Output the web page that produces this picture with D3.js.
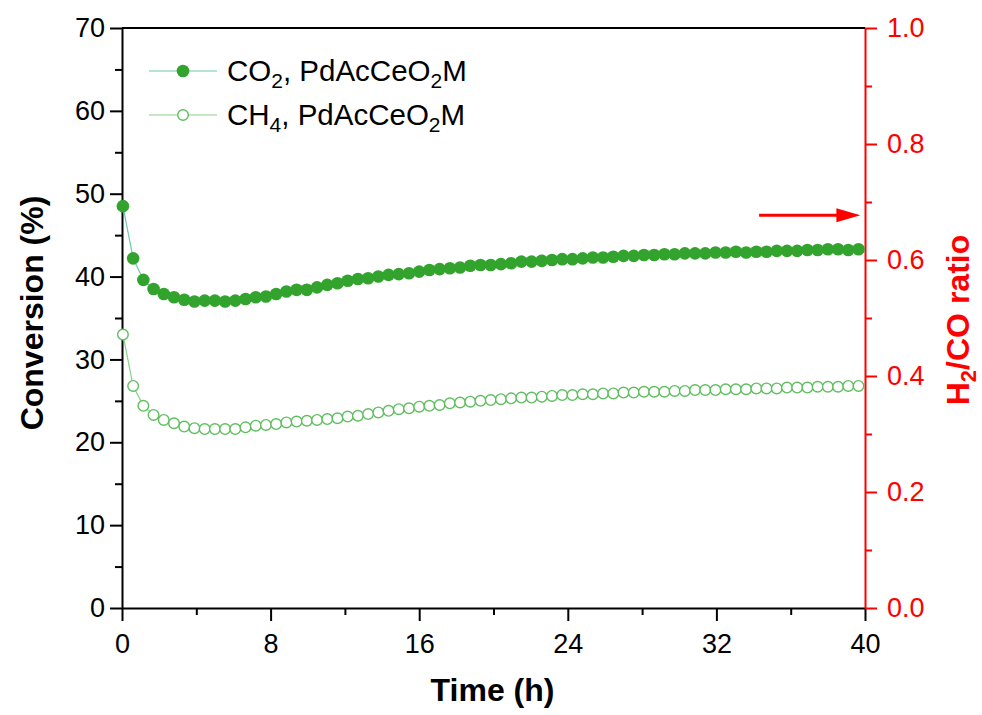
<!DOCTYPE html>
<html>
<head>
<meta charset="utf-8">
<script src="https://cdn.jsdelivr.net/npm/d3@7/dist/d3.min.js"></script>
<style>
  html, body { margin: 0; padding: 0; background: #fff; }
  svg { display: block; font-family: "Liberation Sans", Arial, sans-serif; }
</style>
</head>
<body>
<svg id="chart" width="982" height="715"></svg>
<script>
// Time on stream (h), one sample roughly every 33 min
const timeH = [
  0.05, 0.60, 1.15, 1.70, 2.25, 2.80, 3.35, 3.90, 4.45, 5.00,
  5.55, 6.10, 6.65, 7.20, 7.75, 8.30, 8.85, 9.40, 9.95, 10.50,
  11.05, 11.60, 12.15, 12.70, 13.25, 13.80, 14.35, 14.90, 15.45, 16.00,
  16.55, 17.10, 17.65, 18.20, 18.75, 19.30, 19.85, 20.40, 20.95, 21.50,
  22.05, 22.60, 23.15, 23.70, 24.25, 24.80, 25.35, 25.90, 26.45, 27.00,
  27.55, 28.10, 28.65, 29.20, 29.75, 30.30, 30.85, 31.40, 31.95, 32.50,
  33.05, 33.60, 34.15, 34.70, 35.25, 35.80, 36.35, 36.90, 37.45, 38.00,
  38.55, 39.10, 39.65
];

// CO2 conversion (%), PdAcCeO2M
const co2Conv = [
  48.5, 42.2, 39.6, 38.5, 37.9, 37.5, 37.2, 37.0, 37.1, 37.1,
  37.0, 37.1, 37.3, 37.5, 37.6, 37.9, 38.2, 38.4, 38.4, 38.7,
  39.0, 39.2, 39.5, 39.7, 39.8, 40.0, 40.2, 40.3, 40.4, 40.6,
  40.8, 40.9, 41.0, 41.1, 41.3, 41.4, 41.4, 41.5, 41.6, 41.8,
  41.8, 41.9, 42.0, 42.1, 42.1, 42.2, 42.3, 42.3, 42.4, 42.5,
  42.5, 42.6, 42.6, 42.7, 42.7, 42.8, 42.8, 42.8, 42.9, 42.9,
  43.0, 42.9, 43.0, 43.0, 43.1, 43.1, 43.1, 43.2, 43.2, 43.3,
  43.3, 43.2, 43.3
];

// CH4 conversion (%), PdAcCeO2M
const ch4Conv = [
  33.0, 26.8, 24.4, 23.3, 22.7, 22.3, 21.9, 21.7, 21.6, 21.6,
  21.6, 21.6, 21.8, 22.0, 22.1, 22.2, 22.4, 22.5, 22.6, 22.7,
  22.8, 22.9, 23.1, 23.2, 23.4, 23.6, 23.8, 24.0, 24.1, 24.3,
  24.4, 24.5, 24.7, 24.8, 24.9, 25.0, 25.1, 25.2, 25.3, 25.4,
  25.4, 25.5, 25.6, 25.7, 25.7, 25.8, 25.8, 25.9, 25.9, 26.0,
  26.0, 26.1, 26.1, 26.1, 26.2, 26.2, 26.3, 26.3, 26.3, 26.4,
  26.4, 26.4, 26.5, 26.5, 26.5, 26.6, 26.6, 26.6, 26.7, 26.7,
  26.7, 26.8, 26.8
];

// Axis ticks
const xMajor = [0, 8, 16, 24, 32, 40];
const xMinor = [4, 12, 20, 28, 36];
const yMajor = [0, 10, 20, 30, 40, 50, 60, 70];
const yMinor = [5, 15, 25, 35, 45, 55, 65];
const rMajor = [0, 0.2, 0.4, 0.6, 0.8, 1.0];
const rMinor = [0.1, 0.3, 0.5, 0.7, 0.9];

// Arrow pointing to the ratio axis: [time start, time end, ratio level]
const ratioArrow = [34.3, 39.75, 0.677];

const seriesNames = ["CO2", "CH4"];

const W = 982, H = 715;
const plotL = 122, plotR = 865, plotT = 28, plotB = 608;

const svg = d3.select("#chart");
svg.append("rect").attr("width", W).attr("height", H).attr("fill", "#fff");

const x = d3.scaleLinear().domain([0, 40]).range([plotL, plotR]);
const yL = d3.scaleLinear().domain([0, 70]).range([plotB, plotT]);
const yR = d3.scaleLinear().domain([0, 1]).range([plotB, plotT]);

const tickFont = 27;
const styleAxis = (g, color) => {
  g.select(".domain").attr("stroke", color).attr("stroke-width", 2);
  g.selectAll(".tick line").attr("stroke", color).attr("stroke-width", 2);
  g.selectAll(".tick text").attr("fill", color)
    .attr("font-size", tickFont).attr("font-family", '"Liberation Sans", Arial, sans-serif');
};

// top frame line
svg.append("line").attr("x1", plotL).attr("x2", plotR).attr("y1", plotT).attr("y2", plotT)
  .attr("stroke", "#000").attr("stroke-width", 2);

// bottom axis
const gx = svg.append("g").attr("transform", `translate(0,${plotB})`)
  .call(d3.axisBottom(x).tickValues(xMajor).tickSize(13).tickSizeOuter(0).tickPadding(13).tickFormat(d3.format("d")));
styleAxis(gx, "#000");
svg.append("g").attr("transform", `translate(0,${plotB})`)
  .call(d3.axisBottom(x).tickValues(xMinor).tickSize(7).tickSizeOuter(0).tickFormat(""))
  .call(g => { g.select(".domain").remove(); g.selectAll("line").attr("stroke", "#000").attr("stroke-width", 2); });

// left axis
const gy = svg.append("g").attr("transform", `translate(${plotL},0)`)
  .call(d3.axisLeft(yL).tickValues(yMajor).tickSize(12).tickSizeOuter(0).tickPadding(5).tickFormat(d3.format("d")));
styleAxis(gy, "#000");
svg.append("g").attr("transform", `translate(${plotL},0)`)
  .call(d3.axisLeft(yL).tickValues(yMinor).tickSize(7).tickSizeOuter(0).tickFormat(""))
  .call(g => { g.select(".domain").remove(); g.selectAll("line").attr("stroke", "#000").attr("stroke-width", 2); });

// right axis (H2/CO ratio)
const red = "#ff0000";
const gr = svg.append("g").attr("transform", `translate(${plotR},0)`)
  .call(d3.axisRight(yR).tickValues(rMajor).tickSize(12).tickSizeOuter(0).tickPadding(10).tickFormat(d3.format(".1f")));
styleAxis(gr, red);
svg.append("g").attr("transform", `translate(${plotR},0)`)
  .call(d3.axisRight(yR).tickValues(rMinor).tickSize(7).tickSizeOuter(0).tickFormat(""))
  .call(g => { g.select(".domain").remove(); g.selectAll("line").attr("stroke", red).attr("stroke-width", 2); });

// axis titles
svg.append("text").attr("x", (plotL + plotR) / 2 - 1).attr("y", 701)
  .attr("text-anchor", "middle").attr("font-size", 32).attr("font-weight", "bold")
  .text("Time (h)");
svg.append("text").attr("transform", `translate(43,${(plotT + plotB) / 2 - 5}) rotate(-90)`)
  .attr("text-anchor", "middle").attr("font-size", 32).attr("font-weight", "bold")
  .text("Conversion (%)");
const rt = svg.append("text").attr("transform", `translate(969,${(plotT + plotB) / 2 + 2}) rotate(-90)`)
  .attr("text-anchor", "middle").attr("font-size", 32).attr("font-weight", "bold").attr("fill", red);
rt.append("tspan").text("H");
rt.append("tspan").attr("font-size", 22).attr("dy", 7).text("2");
rt.append("tspan").attr("dy", -7).text("/CO ratio");

// series
const co2Color = "#32a42e", co2Line = "#6ccaa8";
const ch4Color = "#5fbe5f", ch4Line = "#86d486";
const rFilled = 6.3, rOpen = 5.3;
const pts = timeH.map((t, i) => ({ t, co2: co2Conv[i], ch4: ch4Conv[i] }));

svg.append("path").datum(pts)
  .attr("d", d3.line().x(d => x(d.t)).y(d => yL(d.co2)))
  .attr("fill", "none").attr("stroke", co2Line).attr("stroke-width", 1.2);
svg.append("path").datum(pts)
  .attr("d", d3.line().x(d => x(d.t)).y(d => yL(d.ch4)))
  .attr("fill", "none").attr("stroke", ch4Line).attr("stroke-width", 1.2);

svg.append("g").selectAll("circle").data(pts).join("circle")
  .attr("cx", d => x(d.t)).attr("cy", d => yL(d.co2)).attr("r", rFilled)
  .attr("fill", co2Color);
svg.append("g").selectAll("circle").data(pts).join("circle")
  .attr("cx", d => x(d.t)).attr("cy", d => yL(d.ch4)).attr("r", rOpen)
  .attr("fill", "#fff").attr("stroke", ch4Color).attr("stroke-width", 1.4);

// arrow toward the ratio axis
const ay = yR(ratioArrow[2]);
const ax0 = x(ratioArrow[0]), ax1 = x(ratioArrow[1]);
svg.append("line").attr("x1", ax0).attr("x2", ax1 - 20).attr("y1", ay).attr("y2", ay)
  .attr("stroke", red).attr("stroke-width", 3);
svg.append("path")
  .attr("d", `M${ax1},${ay} L${ax1 - 24},${ay - 7} L${ax1 - 24},${ay + 7} Z`)
  .attr("fill", red);

// legend
const legend = svg.append("g");
const legRows = [
  { name: seriesNames[0], y: 71, filled: true },
  { name: seriesNames[1], y: 115, filled: false }
];
legRows.forEach(r => {
  legend.append("line").attr("x1", 149).attr("x2", 217).attr("y1", r.y).attr("y2", r.y)
    .attr("stroke", r.filled ? co2Line : ch4Line).attr("stroke-width", 1.2);
  legend.append("circle").attr("cx", 183).attr("cy", r.y)
    .attr("r", r.filled ? rFilled : rOpen)
    .attr("fill", r.filled ? co2Color : "#fff")
    .attr("stroke", r.filled ? "none" : ch4Color).attr("stroke-width", 1.4);
  const t = legend.append("text").attr("x", 227).attr("y", r.y + 10).attr("font-size", 29.5);
  if (r.filled) {
    t.append("tspan").text("CO");
    t.append("tspan").attr("font-size", 21).attr("dy", 7).text("2");
    t.append("tspan").attr("dy", -7).text(", PdAcCeO");
  } else {
    t.append("tspan").text("CH");
    t.append("tspan").attr("font-size", 21).attr("dy", 7).text("4");
    t.append("tspan").attr("dy", -7).text(", PdAcCeO");
  }
  t.append("tspan").attr("font-size", 21).attr("dy", 7).text("2");
  t.append("tspan").attr("dy", -7).text("M");
});
</script>
</body>
</html>
